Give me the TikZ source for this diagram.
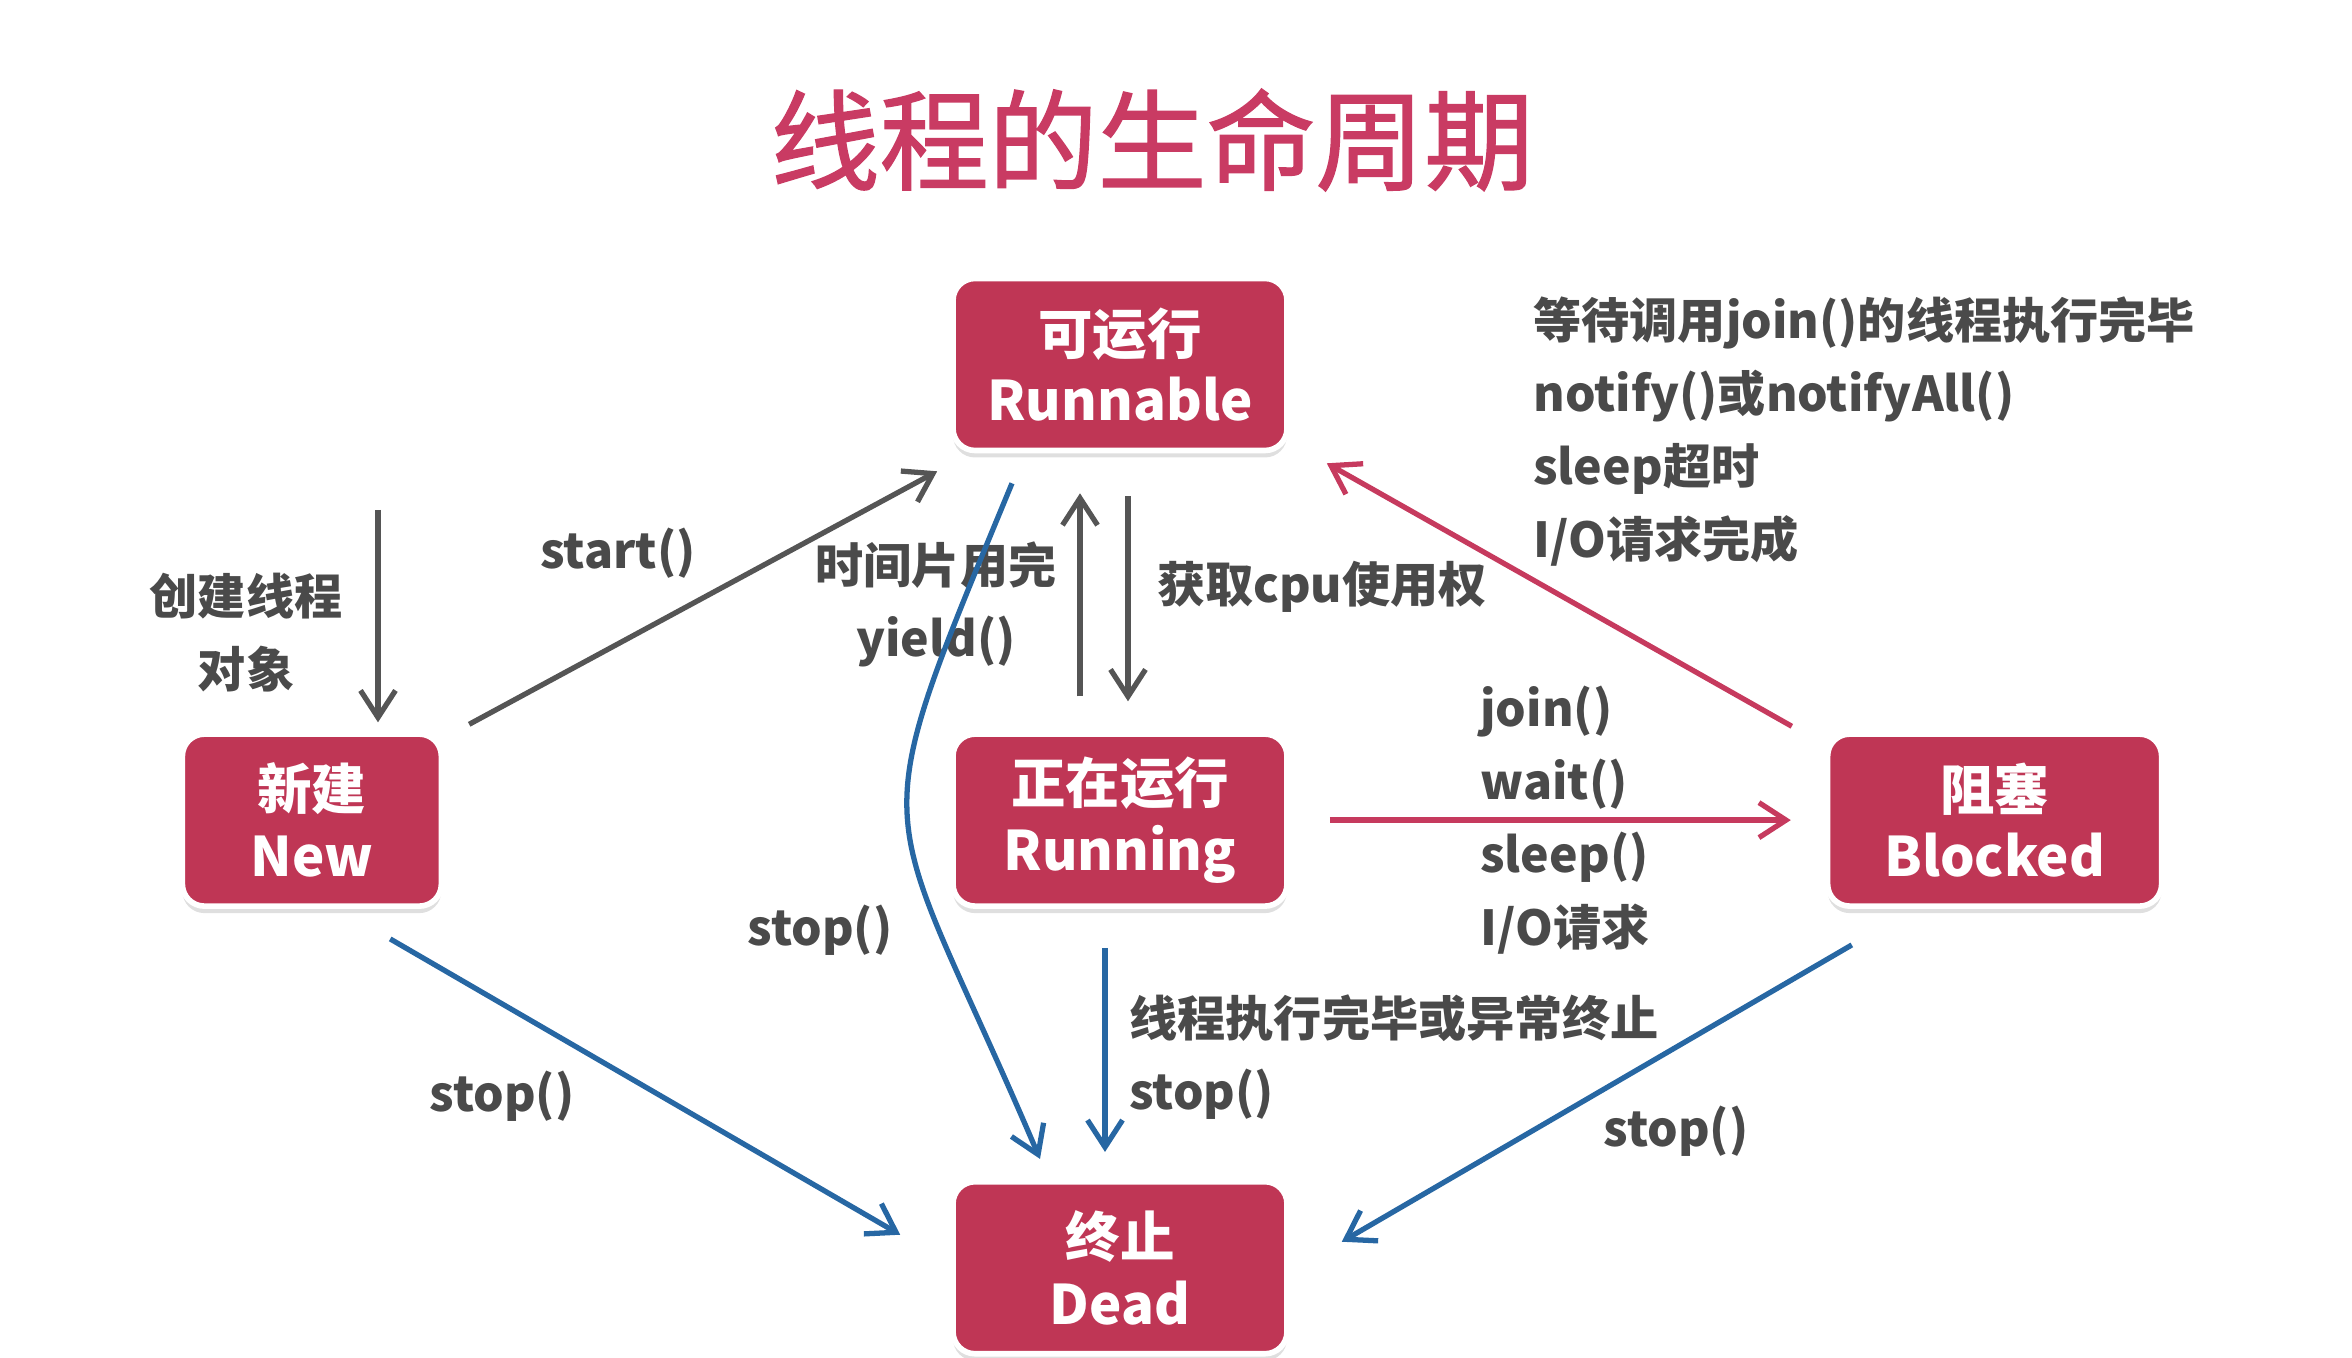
\documentclass[tikz,border=0pt]{standalone}
\usepackage{fontspec}
\setmainfont{Noto Sans CJK SC}
\newfontfamily\titlefont[FakeBold=1.3]{Noto Sans CJK SC}
\usepackage{tikz}
\usetikzlibrary{positioning, arrows.meta, shadows}
\definecolor{boxred}{HTML}{BF3655}
\definecolor{titlered}{HTML}{C93B63}
\definecolor{txtgray}{HTML}{4A4A4A}
\definecolor{linegray}{HTML}{555555}
\definecolor{linered}{HTML}{C63A5E}
\definecolor{lineblue}{HTML}{2767A3}
\tikzset{
  state/.style={fill=boxred, draw=white, line width=1.6pt, rounded corners=2.2mm,
                text=white, align=center, minimum width=33.4mm, minimum height=17.2mm,
                font=\fontsize{15.5}{19}\selectfont\bfseries,
                drop shadow={shadow xshift=0pt, shadow yshift=-0.7mm, opacity=0.25}},
  lbl/.style={text=txtgray, font=\fontsize{13.7}{20.8}\selectfont\bfseries, align=left},
  tip/.style={-{Straight Barb[length=2.7mm, width=3.5mm]}, line width=1.5pt},
  grayflow/.style={tip, linegray},
  redflow/.style={tip, linered},
  blueflow/.style={tip, lineblue}
}

\begin{document}
\begin{tikzpicture}
  \useasboundingbox (0,0) rectangle (23.52,-13.58);
  \node[text=titlered, font=\titlefont\fontsize{31}{36}\selectfont] (title) at (11.52,-1.40) {线程的生命周期};

  % the five states
  \node[state] (runnable) at (11.2,-3.645) {可运行\\Runnable};
  \node[state, below=2.78cm of runnable] (running) {正在运行\\Running};
  \node[state, minimum width=25.9mm, left=5.06cm of running] (new) {新建\\New};
  \node[state, right=5.35cm of running] (blocked) {阻塞\\Blocked};
  \node[state, below=2.70cm of running] (dead) {终止\\Dead};

  % labels
  \node[lbl, align=center] (lcreate) at (2.46,-6.33) {创建线程\\对象};
  \node[lbl] (lstart) at (6.18,-5.53) {start()};
  \node[lbl, align=center] (lyield) at (9.36,-6.04) {时间片用完\\yield()};
  \node[lbl] (lcpu) at (13.22,-5.87) {获取cpu使用权};
  \node[lbl, anchor=west] (lwake) at (15.21,-4.315)
    {等待调用join()的线程执行完毕\\notify()或notifyAll()\\sleep超时\\I/O请求完成};
  \node[lbl, anchor=west] (lblock) at (14.68,-8.20) {join()\\wait()\\sleep()\\I/O请求};
  \node[lbl] (lstopa) at (8.20,-9.30) {stop()};
  \node[lbl, anchor=west] (lend) at (11.17,-10.575) {线程执行完毕或异常终止\\stop()};
  \node[lbl] (lstopb) at (5.02,-10.96) {stop()};
  \node[lbl] (lstopc) at (16.76,-11.31) {stop()};

  % transitions
  \coordinate (create) at (3.78,-5.10);
  \draw[grayflow, shorten >=0.9mm] (create) -- (create |- new.north);
  \draw[grayflow] ([shift={(0.25,0.07)}]new.north east) -- ([shift={(-0.13,-0.18)}]runnable.south west);
  \draw[grayflow, shorten <=3.5mm, shorten >=4mm] ([xshift=-4mm]running.north) -- ([xshift=-4mm]runnable.south);
  \draw[grayflow, shorten <=4.3mm, shorten >=3mm] ([xshift=0.8mm]runnable.south) -- ([xshift=0.8mm]running.north);
  \draw[redflow, shorten <=4mm, shorten >=3.4mm] (running) -- (blocked);
  \draw[redflow] ([shift={(-0.33,0.05)}]blocked.north west) -- ([shift={(0.37,-0.10)}]runnable.south east);
  \draw[blueflow] ([shift={(-1.08,-0.30)}]runnable.south)
    .. controls +(-1.55,-3.75) and +(-1.60,3.75) .. ([shift={(-0.80,0.20)}]dead.north);
  \draw[blueflow, shorten <=3.9mm, shorten >=2.7mm] ([xshift=-1.5mm]running.south) -- ([xshift=-1.5mm]dead.north);
  \draw[blueflow] ([shift={(-0.54,-0.30)}]new.south east) -- ([shift={(-0.50,0.33)}]dead.west);
  \draw[blueflow] ([shift={(0.27,-0.36)}]blocked.south west) -- ([shift={(0.52,0.26)}]dead.east);
\end{tikzpicture}
\end{document}
